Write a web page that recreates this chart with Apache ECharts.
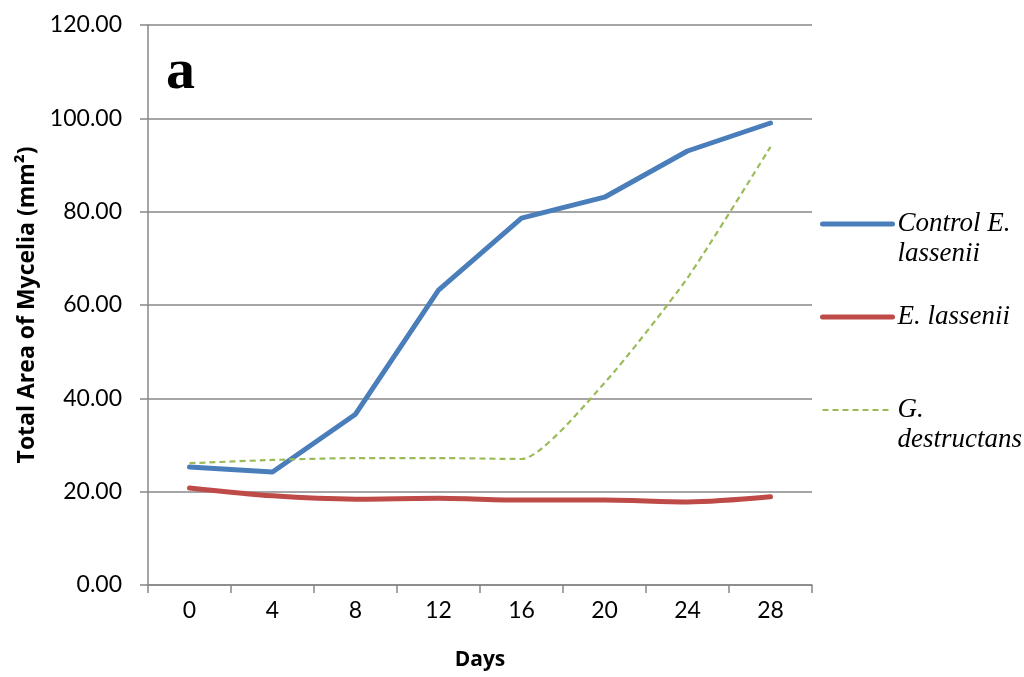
<!DOCTYPE html>
<html><head><meta charset="utf-8">
<script src="https://cdn.jsdelivr.net/npm/echarts@6/dist/echarts.min.js"></script>
<style>html,body{margin:0;padding:0;background:#fff}#c{width:1024px;height:677px}</style>
</head><body><div id="c"></div>
<script>
const days = ['0','4','8','12','16','20','24','28'];
const controlElassenii = [25.3, 24.2, 36.6, 63.2, 78.6, 83.1, 93.0, 99.0];
const eLassenii = [20.8, 19.1, 18.4, 18.6, 18.2, 18.2, 17.8, 18.9];
const gDestructans = [26.1, 26.8, 27.2, 27.2, 27.0, 43.3, 65.8, 93.9];
const seriesNames = ['Control E. lassenii', 'E. lassenii', 'G. destructans'];
const legendLabels = {'Control E. lassenii': '\u00a0\nControl E.\nlassenii', 'E. lassenii': 'E. lassenii', 'G. destructans': '\u00a0\nG.\ndestructans'};

const chart = echarts.init(document.getElementById('c'));
const gridColor = '#878787';
chart.setOption({
  animation: false,
  grid: {left: 148, right: 212, top: 25, bottom: 92, containLabel: false},
  xAxis: {
    type: 'category', data: days, boundaryGap: true,
    name: 'Days', nameLocation: 'middle', nameGap: 65,
    nameTextStyle: {fontFamily: 'Open Sans', fontWeight: 'bold', fontSize: 21, color: '#000'},
    axisLine: {lineStyle: {color: gridColor, width: 1.5}},
    axisTick: {show: true, length: 8, lineStyle: {color: gridColor, width: 1.5}},
    axisLabel: {fontFamily: 'Lato', fontSize: 23, color: '#000', margin: 14}
  },
  yAxis: {
    type: 'value', min: 0, max: 120, interval: 20,
    name: 'Total Area of Mycelia (mm²)', nameLocation: 'middle', nameGap: 108, nameRotate: 90,
    nameTextStyle: {fontFamily: 'Open Sans', fontWeight: 'bold', fontSize: 23, color: '#000'},
    axisLine: {show: true, lineStyle: {color: gridColor, width: 1.5}},
    axisTick: {show: true, length: 8, lineStyle: {color: gridColor, width: 1.5}},
    splitLine: {lineStyle: {color: gridColor, width: 1.5}},
    axisLabel: {fontFamily: 'Lato', fontSize: 23, color: '#000', margin: 26, formatter: v => v.toFixed(2)}
  },
  legend: {
    orient: 'vertical', left: 820, top: 179, itemGap: 33, itemWidth: 70, itemHeight: 14, padding: 0,
    data: [
      {name: seriesNames[0], itemStyle: {opacity: 0}, lineStyle: {width: 5, cap: 'round'}},
      {name: seriesNames[1], itemStyle: {opacity: 0}, lineStyle: {width: 5, cap: 'round'}},
      {name: seriesNames[2], itemStyle: {opacity: 0}, lineStyle: {width: 2.2}}
    ],
    formatter: n => legendLabels[n],
    textStyle: {fontFamily: 'Liberation Serif', fontStyle: 'italic', fontSize: 27, color: '#000', lineHeight: 30}
  },
  graphic: [{
    type: 'text', left: 166, top: 44,
    style: {text: 'a', fontFamily: 'Liberation Serif', fontWeight: 'bold', fontSize: 58, fill: '#000'}
  }],
  series: [
    {name: seriesNames[0], type: 'line', data: controlElassenii, showSymbol: false, symbol: 'none',
     lineStyle: {color: '#4a7ebb', width: 5, cap: 'round', join: 'round'}, itemStyle: {color: '#4a7ebb'}},
    {name: seriesNames[1], type: 'line', data: eLassenii, showSymbol: false, symbol: 'none', smooth: 0.3,
     lineStyle: {color: '#be4b48', width: 5, cap: 'round', join: 'round'}, itemStyle: {color: '#be4b48'}},
    {name: seriesNames[2], type: 'line', data: gDestructans, showSymbol: false, symbol: 'none', smooth: 0.2,
     lineStyle: {color: '#9bbb59', width: 2.2, type: [6, 4]}, itemStyle: {color: '#9bbb59'}}
  ]
});
</script></body></html>
